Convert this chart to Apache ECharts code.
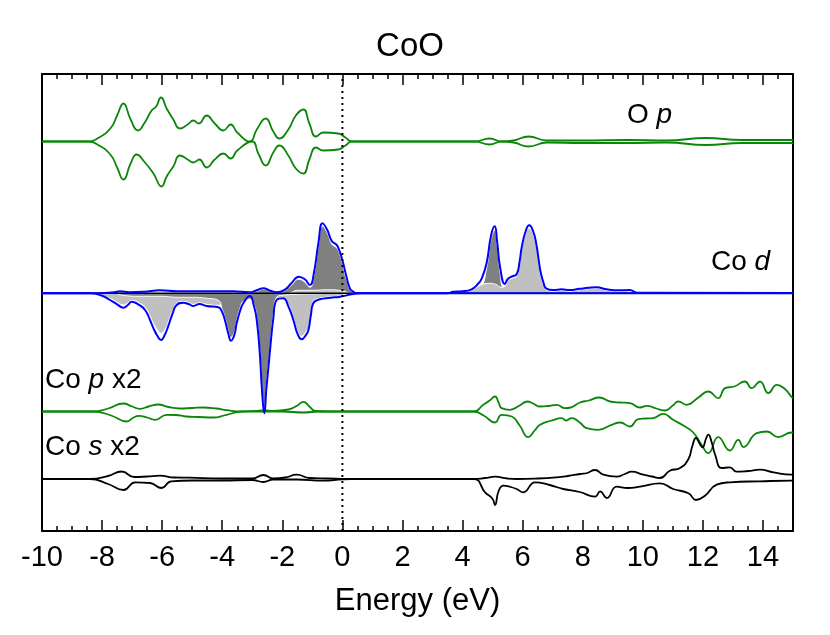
<!DOCTYPE html>
<html>
<head>
<meta charset="utf-8">
<script src="https://cdn.jsdelivr.net/npm/echarts@6/dist/echarts.min.js"></script>
<style>html,body{margin:0;padding:0;background:#fff}#c{width:830px;height:635px}</style>
</head>
<body>
<div id="c"></div>
<script>
// ---- Data: [energy (eV), DOS magnitude (arb. units)] ----
const energyTicks = [-10, -8, -6, -4, -2, 0, 2, 4, 6, 8, 10, 12, 14];
const curveLabels = ['O p', 'Co d', 'Co p x2', 'Co s x2'];

const oPUp = [[-10,0],[-8.5,0],[-8.1,4],[-7.7,14],[-7.5,26],[-7.29,38],[-7.05,22],[-6.8,11],[-6.6,18],[-6.35,31],[-6.2,35],[-6.04,44],[-5.85,33],[-5.63,22],[-5.41,13],[-5.15,17],[-4.96,21],[-4.78,18],[-4.52,26],[-4.25,18],[-3.96,11],[-3.72,17],[-3.5,9],[-3.08,0],[-2.85,12],[-2.55,23],[-2.3,10],[-2.1,3],[-1.8,12],[-1.55,26],[-1.3,32],[-1.1,18],[-0.88,5],[-0.64,9],[-0.14,8],[0.1,4],[0.31,0],[4.4,0],[4.9,3],[5.3,0],[5.7,1],[6.2,5],[6.8,1],[8,1],[9.5,1.5],[10.8,1],[12.1,3.5],[13.3,1.5],[15,1.5]];
const oPDown = [[-10,0],[-8.5,0],[-8.1,4],[-7.7,14],[-7.5,26],[-7.29,38],[-7.05,22],[-6.85,13],[-6.6,20],[-6.29,32],[-6.02,45],[-5.85,35],[-5.63,25],[-5.41,14],[-5.15,18],[-4.96,21],[-4.76,18],[-4.52,26],[-4.25,18],[-3.96,12],[-3.72,17],[-3.5,9],[-3.0,0],[-2.8,12],[-2.55,24],[-2.3,11],[-2.1,4],[-1.8,14],[-1.55,27],[-1.3,32],[-1.1,18],[-0.88,6],[-0.64,9],[-0.14,8],[0.1,4],[0.31,0],[4.4,0],[4.9,3],[5.3,0],[5.7,1],[6.2,5],[6.8,1],[8,1.5],[9.5,1.5],[10.8,1],[12.1,3.5],[13.3,1.5],[15,1.5]];

const coDUp = [[-10,0],[-8.4,0],[-7.6,1],[-7.4,2],[-7.1,1],[-6.6,1.5],[-6.07,3],[-5.5,2],[-4.5,2],[-3.64,2],[-3.1,1],[-2.85,3],[-2.63,5],[-2.4,2.5],[-2.19,1],[-1.9,4],[-1.7,10],[-1.45,16.6],[-1.25,14],[-1.08,8.3],[-0.95,20],[-0.8,50],[-0.66,70],[-0.5,63],[-0.35,52],[-0.21,49],[-0.14,46],[0.0,33],[0.14,16],[0.25,5],[0.36,1.6],[0.5,0],[3.5,0],[3.69,1.5],[4.0,2],[4.3,4],[4.5,9],[4.64,15],[4.8,30],[4.95,58],[5.07,67],[5.15,52],[5.25,26],[5.41,9.3],[5.5,14],[5.65,17],[5.8,19],[5.9,32],[5.97,46],[6.1,62],[6.22,68],[6.35,62],[6.45,50],[6.55,30],[6.6,21],[6.7,10],[6.78,5],[7.02,3.3],[7.3,4],[7.56,3.3],[7.9,4.5],[8.2,5.5],[8.46,6],[8.8,4],[9.2,3],[9.57,3.3],[9.8,0.6],[15,0.3]];
const coDDown = [[-10,0],[-8.4,0],[-8.0,2.5],[-7.74,6.7],[-7.5,11],[-7.29,14.4],[-7.15,12],[-7.01,8.4],[-6.8,11],[-6.57,16.7],[-6.4,27],[-6.29,35],[-6.15,43],[-6.04,46.7],[-5.92,42],[-5.8,33],[-5.65,20],[-5.52,11.7],[-5.3,9.4],[-5.1,11],[-4.96,12.7],[-4.76,10.7],[-4.52,12.7],[-4.13,14],[-4.0,19],[-3.91,27],[-3.8,40],[-3.71,47.4],[-3.6,42],[-3.52,30],[-3.4,17],[-3.3,10],[-3.08,2.7],[-2.95,12],[-2.85,27],[-2.75,60],[-2.67,100],[-2.6,120],[-2.53,95],[-2.45,70],[-2.41,57],[-2.3,25],[-2.19,6.7],[-1.97,5],[-1.8,13],[-1.63,27],[-1.5,40],[-1.36,46],[-1.2,41],[-1.13,36.7],[-1.05,22],[-0.97,10],[-0.75,6],[-0.4,4.5],[-0.08,3.4],[0.36,0.7],[0.6,0],[15,0]];
const coDT2gUp = [[-10,0],[-3.2,0],[-2.85,2],[-2.63,4],[-2.4,2],[-2.19,0.5],[-1.9,3],[-1.7,8],[-1.45,14],[-1.25,11],[-1.08,6],[-0.95,17],[-0.8,47],[-0.66,67],[-0.5,60],[-0.35,49],[-0.21,46],[-0.14,43],[0,30],[0.14,13],[0.3,2],[0.5,0],[4.3,0],[4.6,5],[4.8,25],[4.95,54],[5.07,63],[5.15,48],[5.25,20],[5.35,4],[5.5,0],[15,0]];
const coDEgUp = [[-10,0],[-1.8,0],[-1.5,3],[-1.0,3],[-0.5,3.5],[0,2.5],[0.3,0],[3.7,0],[4.0,1],[4.3,3],[4.6,8],[4.9,10],[5.1,9],[5.3,6],[5.41,7],[5.5,12],[5.65,15],[5.8,17],[5.9,29],[5.97,43],[6.1,59],[6.22,65],[6.35,59],[6.45,47],[6.55,27],[6.6,18],[6.7,8],[6.78,3.5],[7.02,2],[7.3,3],[7.56,2],[7.9,3.5],[8.2,4.5],[8.46,5],[8.8,3],[9.2,2],[9.57,2],[9.8,0],[15,0]];
const coDT2gDown = [[-10,0],[-7.6,0],[-7.3,2],[-6.8,3],[-6.0,3],[-5.5,4],[-5.0,4],[-4.5,5],[-4.13,7],[-4.0,16],[-3.91,24],[-3.8,37],[-3.71,44],[-3.6,39],[-3.52,27],[-3.4,14],[-3.3,8],[-3.08,6],[-2.95,10],[-2.85,25],[-2.75,57],[-2.67,96],[-2.6,116],[-2.53,91],[-2.45,66],[-2.41,53],[-2.3,21],[-2.19,4],[-2.0,2],[-1.5,1],[-1,0.5],[0,0],[15,0]];
const coDEgDown = [[-10,0],[-8.4,0],[-8,2],[-7.74,5],[-7.5,9],[-7.29,11.5],[-7.15,10],[-7.01,7],[-6.8,9],[-6.57,14],[-6.4,23],[-6.29,30],[-6.15,37],[-6.04,40],[-5.92,37],[-5.8,29],[-5.65,17],[-5.52,10],[-5.3,8],[-5.1,9.5],[-4.96,11],[-4.76,9.5],[-4.52,11],[-4.13,12],[-4.0,10],[-3.8,6],[-3.5,5],[-3.3,7],[-3.08,2],[-2.9,4],[-2.6,2],[-2.3,6],[-2.19,5],[-1.97,4],[-1.8,11],[-1.63,25],[-1.5,37],[-1.36,43],[-1.2,38],[-1.13,34],[-1.05,20],[-0.97,8],[-0.75,5],[-0.4,3.5],[-0.08,2.5],[0.36,0],[15,0]];

const coPUp = [[-10,0],[-8.3,0],[-7.8,3],[-7.29,8],[-7.0,5],[-6.74,2.7],[-6.45,5],[-6.13,7],[-5.8,4.5],[-5.41,3],[-5.0,3.5],[-4.63,4],[-4.2,3],[-3.85,1.3],[-3.4,0],[-2.9,0.5],[-2.6,1.3],[-2.3,0.5],[-1.8,2],[-1.5,6],[-1.3,9.7],[-1.1,5],[-0.9,0.5],[-0.5,0],[4.36,0],[4.69,6.7],[4.9,11],[5.08,15],[5.2,9],[5.3,3.4],[5.58,1.7],[5.9,6],[6.16,10],[6.35,8],[6.58,5],[6.85,5.5],[7.13,6.7],[7.41,3.4],[7.6,4],[7.91,9],[8.2,11],[8.55,14],[8.91,10],[9.24,9],[9.57,8.4],[9.91,4],[10.13,5.7],[10.45,3],[10.74,1],[11.0,6],[11.18,10],[11.46,6.7],[11.85,14],[12.18,20],[12.51,13.4],[12.74,23.4],[13.05,25],[13.4,30],[13.62,23.4],[13.9,30],[14.18,18.4],[14.46,26.7],[14.75,22],[14.96,14.4],[15,14]];
const coPDown = [[-10,0],[-8.3,0],[-7.7,4],[-7.18,10],[-6.95,6],[-6.78,4.3],[-6.5,6],[-6.24,8.3],[-5.85,3.3],[-5.55,3.5],[-5.2,5],[-4.8,5.5],[-4.3,6],[-3.86,3.3],[-3.3,0],[-2,0],[-1.3,1],[-0.8,0],[4.36,0],[4.7,4],[5.08,11],[5.3,3.3],[5.64,5],[5.9,14],[6.19,25.6],[6.4,19],[6.58,13.3],[6.97,9],[7.3,6.6],[7.45,9],[7.63,6.6],[7.9,11],[8.13,16.6],[8.52,18.3],[8.96,13.3],[9.25,11],[9.57,15],[9.85,7.6],[10.1,7],[10.35,6.6],[10.68,2.3],[11.01,8.3],[11.35,14],[11.68,21],[11.95,33],[12.18,41.6],[12.51,25.6],[12.9,39],[13.18,28.3],[13.35,35.6],[13.79,21.6],[14.13,20],[14.51,25.6],[14.96,21],[15,21]];

const coSUp = [[-10,0],[-8.4,0],[-7.8,3],[-7.35,7.5],[-6.93,2],[-6.5,2.5],[-6.07,3.3],[-5.6,1.5],[-5.1,1.3],[-4,0.5],[-3,0.5],[-2.63,4],[-2.3,0.5],[-1.9,1.5],[-1.52,4.3],[-1.1,1],[-0.5,0.5],[0.2,0],[4.36,0],[4.75,1],[5.08,2.3],[5.5,0.5],[5.81,0],[6.5,0.5],[7.13,1.7],[7.5,3],[7.91,5],[8.15,6],[8.41,9],[8.69,4.3],[9.13,2.3],[9.4,5],[9.63,7.3],[10.02,4.3],[10.3,2.5],[10.57,1],[10.9,8.3],[11.24,11],[11.52,20],[11.65,33],[11.77,41],[11.9,35],[11.99,31.6],[12.1,40],[12.18,44.3],[12.3,36],[12.4,25],[12.63,11],[12.9,11.6],[13.12,7.3],[13.5,8],[13.9,9.3],[14.35,6.6],[14.96,4.3],[15,4.3]];
const coSDown = [[-10,0],[-8.4,0],[-7.8,5],[-7.29,11],[-6.9,3.3],[-6.4,4],[-6.02,9],[-5.7,2.3],[-5,1.5],[-4,1.5],[-3.0,1],[-2.63,3],[-2.3,0.5],[-1.52,0.5],[-0.64,1.7],[0,0.3],[0.3,0],[4.36,0],[4.75,13.3],[5.0,20],[5.08,26],[5.2,12],[5.36,6.7],[5.6,8],[5.8,10],[6.02,13.3],[6.41,3.3],[6.9,6],[7.35,10],[7.9,13],[8.41,17.7],[8.58,12.3],[8.8,19],[9.13,7.7],[9.5,9],[9.91,7.6],[10.57,4.3],[11.01,10],[11.52,14.3],[11.77,21],[12.07,16.7],[12.46,5.7],[12.9,3.3],[13.9,2.3],[14.96,1.7],[15,1.7]];

// ---- Layout / style ----
const Y_MAX = 457;
const BASE = { op: 389.5, cod: 237.7, cop: 119.5, cos: 52 };
const FONT = 'Liberation Sans, Arial, Helvetica, sans-serif';
const GREEN = '#0b860b', BLUE = '#0000ff', DARK = '#808080', LIGHT = '#c0c0c0';
const SMOOTH = 0.5;

function shift(data, base, sign) { return data.map(p => [p[0], base + sign * p[1]]); }
function curve(data, base, sign, color, width, z) {
  return { type: 'line', data: shift(data, base, sign), showSymbol: false, smooth: SMOOTH,
    lineStyle: { color: color, width: width, join: 'round' }, z: z, silent: true };
}
function fill(data, base, sign, color, z) {
  return { type: 'line', data: shift(data, base, sign), showSymbol: false, smooth: SMOOTH,
    lineStyle: { color: '#ffffff', width: 1 }, areaStyle: { color: color, opacity: 1, origin: base }, z: z, silent: true };
}

const series = [
  curve(coPUp, BASE.cop, 1, GREEN, 1.8, 2),
  curve(coPDown, BASE.cop, -1, GREEN, 1.8, 2),
  curve(coSUp, BASE.cos, 1, '#000', 1.8, 2),
  curve(coSDown, BASE.cos, -1, '#000', 1.8, 2),
  curve(oPUp, BASE.op, 1, GREEN, 1.8, 2),
  curve(oPDown, BASE.op, -1, GREEN, 1.8, 2),
  fill(coDEgDown, BASE.cod, -1, LIGHT, 3),
  fill(coDT2gDown, BASE.cod, -1, DARK, 4),
  fill(coDT2gUp, BASE.cod, 1, DARK, 3),
  fill(coDEgUp, BASE.cod, 1, LIGHT, 4),
  { type: 'line', data: [[-10, BASE.cod], [15, BASE.cod]], showSymbol: false, lineStyle: { color: '#000', width: 1.5 }, z: 5, silent: true },
  curve(coDUp, BASE.cod, 1, BLUE, 2, 6),
  curve(coDDown, BASE.cod, -1, BLUE, 2, 6),
  { type: 'line', data: [[0, 0], [0, Y_MAX]], showSymbol: false, lineStyle: { color: '#000', width: 2, type: [2, 4] }, z: 7, silent: true }
];

const xBase = {
  type: 'value', min: -10, max: 15, interval: 2,
  axisLine: { show: true, onZero: false, lineStyle: { color: '#000', width: 2 } },
  axisTick: { show: true, inside: true, length: 11, lineStyle: { color: '#000', width: 1.5 } },
  minorTick: { show: true, splitNumber: 4, length: 5, lineStyle: { color: '#000', width: 1.5 } },
  splitLine: { show: false }, minorSplitLine: { show: false }
};
const yBase = {
  type: 'value', min: 0, max: Y_MAX,
  axisLine: { show: true, onZero: false, lineStyle: { color: '#000', width: 2 } },
  axisTick: { show: false }, axisLabel: { show: false }, splitLine: { show: false }
};

const chart = echarts.init(document.getElementById('c'), null, { renderer: 'canvas' });
chart.setOption({
  animation: false,
  backgroundColor: '#fff',
  grid: { left: 42, right: 37, top: 74, bottom: 104 },
  xAxis: [
    Object.assign({}, xBase, { position: 'bottom',
      axisLabel: { show: true, color: '#000', fontSize: 29, fontFamily: FONT, margin: 12,
        formatter: v => (energyTicks.indexOf(v) >= 0 ? String(v) : '') },
      name: 'Energy (eV)', nameLocation: 'middle', nameGap: 55,
      nameTextStyle: { color: '#000', fontSize: 31, fontFamily: FONT } }),
    Object.assign({}, xBase, { position: 'top', axisLabel: { show: false } })
  ],
  yAxis: [
    Object.assign({}, yBase, { position: 'left' }),
    Object.assign({}, yBase, { position: 'right' })
  ],
  series: series,
  graphic: [
    { type: 'text', x: 410, y: 47, style: { text: 'CoO', fill: '#000', font: '33px ' + FONT, align: 'center', verticalAlign: 'middle' } },
    { type: 'text', x: 627, y: 115, z: 10, style: { text: '{n|O }{i|p}', align: 'left', verticalAlign: 'middle',
      rich: { n: { fontSize: 28, fontFamily: FONT, fill: '#000' }, i: { fontSize: 28, fontFamily: FONT, fontStyle: 'italic', fill: '#000' } } } },
    { type: 'text', x: 711, y: 262, z: 10, style: { text: '{n|Co }{i|d}', align: 'left', verticalAlign: 'middle',
      rich: { n: { fontSize: 28, fontFamily: FONT, fill: '#000' }, i: { fontSize: 28, fontFamily: FONT, fontStyle: 'italic', fill: '#000' } } } },
    { type: 'text', x: 45, y: 380, z: 10, style: { text: '{n|Co }{i|p}{n| x2}', align: 'left', verticalAlign: 'middle',
      rich: { n: { fontSize: 28, fontFamily: FONT, fill: '#000' }, i: { fontSize: 28, fontFamily: FONT, fontStyle: 'italic', fill: '#000' } } } },
    { type: 'text', x: 45, y: 447, z: 10, style: { text: '{n|Co }{i|s}{n| x2}', align: 'left', verticalAlign: 'middle',
      rich: { n: { fontSize: 28, fontFamily: FONT, fill: '#000' }, i: { fontSize: 28, fontFamily: FONT, fontStyle: 'italic', fill: '#000' } } } }
  ]
});
</script>
</body>
</html>
